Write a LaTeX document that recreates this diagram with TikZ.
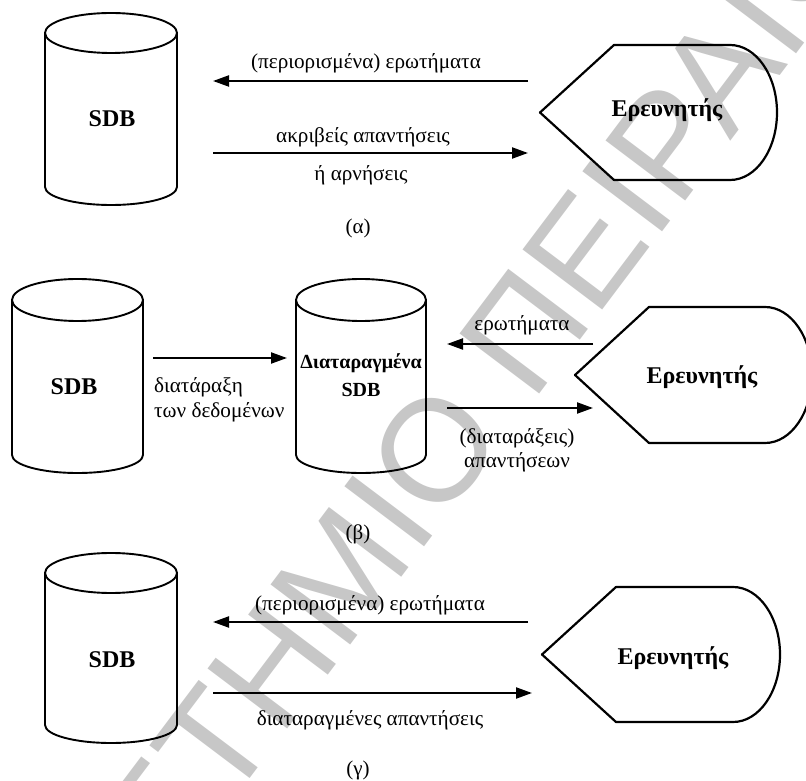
\documentclass[tikz,border=0pt]{standalone}
\usepackage{fontspec}
\setmainfont{Liberation Serif}
\newfontfamily\lsans{Liberation Sans}
\usetikzlibrary{arrows.meta}

% vertical database cylinder: centre x, x radius, top-ellipse y, bottom-ellipse y, top ry, bottom ry
\newcommand\dbcyl[6]{%
  \draw[outline] (#1-#2,#3) -- (#1-#2,#4)
    arc[start angle=180,end angle=360,x radius=#2,y radius=#6] -- (#1+#2,#3);
  \draw[outline] (#1,#3) ellipse[x radius=#2,y radius=#5];
}
% researcher shape: left tip x, centre y, half height, end of the flat edges
\newcommand\probe[4]{%
  \draw[line width=2.2pt,line join=round] (#1,#2) -- (#1+74,#2+#3) -- (#4,#2+#3)
    arc[start angle=90,end angle=-90,x radius=47,y radius=#3] -- (#1+74,#2-#3) -- cycle;
}

\begin{document}
\begin{tikzpicture}[x=1pt,y=1pt,
  lbl/.style={font=\fontsize{21.2}{24}\selectfont,inner sep=0pt},
  capt/.style={font=\fontsize{21}{24}\selectfont,inner sep=0pt},
  dbtxt/.style={font=\bfseries\fontsize{24}{28}\selectfont,inner sep=0pt},
  who/.style={font=\bfseries\fontsize{24}{28}\selectfont,inner sep=0pt},
  flow/.style={line width=2.1pt,-{Triangle[length=16pt,width=11pt]}},
  outline/.style={line width=1.9pt,line join=round},
]
\useasboundingbox (0,0) rectangle (806,780);
\clip (0,0) rectangle (806,780);

% watermark
\node[rotate=53,text=black!22,inner sep=0pt,font=\lsans\fontsize{145}{150}\selectfont]
  (wm) at (348,214) {ΠΑΝΕΠΙΣΤΗΜΙΟ ΠΕΙΡΑΙΩΣ};

% ---------- (a) ----------
\dbcyl{111}{66}{747}{593}{20}{18}
\node[dbtxt] (sdbA) at (112,661) {SDB};
\probe{540}{667.5}{67.5}{730}
\node[who] (resA) at (667,670) {Ερευνητής};
\coordinate (qAs) at (528,699); \coordinate (qAe) at (213,699);
\coordinate (rAs) at (213,627); \coordinate (rAe) at (528,627);
\draw[flow] (qAs) -- (qAe);
\draw[flow] (rAs) -- (rAe);
\node[lbl] (qAl) at (366,717) {(περιορισμένα) ερωτήματα};
\node[lbl] (rAl1) at (363,643) {ακριβείς απαντήσεις};
\node[lbl] (rAl2) at (361,605) {ή αρνήσεις};
\node[capt] (capA) at (358,552) {(α)};

% ---------- (b) ----------
\dbcyl{77.5}{65.5}{480}{325}{21}{18}
\node[dbtxt] (sdbB) at (74,393) {SDB};
\dbcyl{361}{65}{480}{325}{21}{18}
\node[font=\bfseries\fontsize{20}{24}\selectfont,inner sep=0pt] (pdb1) at (361,417) {Διαταραγμένα};
\node[font=\bfseries\fontsize{20}{24}\selectfont,inner sep=0pt] (pdb2) at (361,390) {SDB};
\coordinate (pBs) at (153,422); \coordinate (pBe) at (287,422);
\draw[flow] (pBs) -- (pBe);
\node[lbl,anchor=west] (pBl1) at (154,393) {διατάραξη};
\node[lbl,anchor=west] (pBl2) at (154,368) {των δεδομένων};
\probe{575}{405}{68}{765}
\node[who] (resB) at (702,403) {Ερευνητής};
\coordinate (qBs) at (593,436); \coordinate (qBe) at (447,436);
\coordinate (rBs) at (447,372); \coordinate (rBe) at (593,372);
\draw[flow] (qBs) -- (qBe);
\draw[flow] (rBs) -- (rBe);
\node[lbl] (qBl) at (522,455) {ερωτήματα};
\node[lbl] (rBl1) at (517,342) {(διαταράξεις)};
\node[lbl] (rBl2) at (517,318) {απαντήσεων};
\node[capt] (capB) at (358,246) {(β)};

% ---------- (c) ----------
\dbcyl{111}{66}{207}{55}{20}{18}
\node[dbtxt] (sdbC) at (112,120) {SDB};
\probe{542}{125.5}{67.5}{733}
\node[who] (resC) at (673,122) {Ερευνητής};
\coordinate (qCs) at (528,158); \coordinate (qCe) at (213,158);
\coordinate (rCs) at (213,87); \coordinate (rCe) at (532,87);
\draw[flow] (qCs) -- (qCe);
\draw[flow] (rCs) -- (rCe);
\node[lbl] (qCl) at (370,175) {(περιορισμένα) ερωτήματα};
\node[lbl] (rCl) at (370,60) {διαταραγμένες απαντήσεις};
\node[capt] (capC) at (358,10) {(γ)};
\end{tikzpicture}
\end{document}
